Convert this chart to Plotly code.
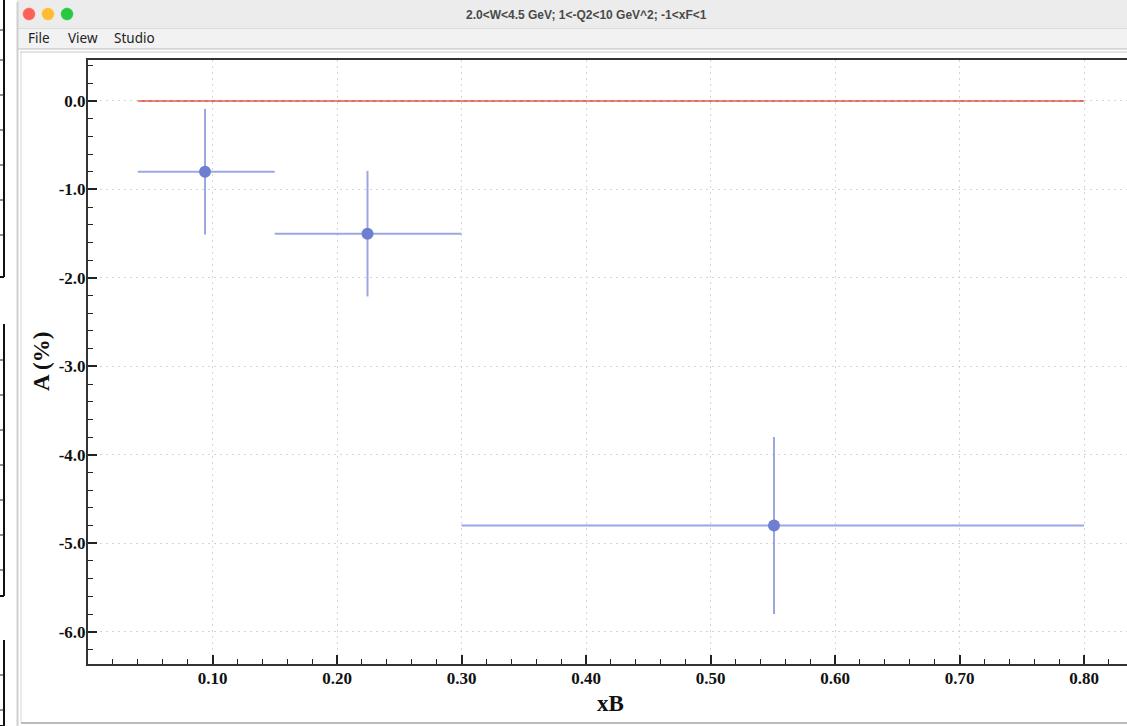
import plotly.graph_objects as go

# ---- data ----
xb_values = [0.094, 0.2245, 0.551]
xb_err_low = [0.054, 0.0745, 0.251]
xb_err_high = [0.056, 0.0755, 0.249]
asym_values = [-0.80, -1.50, -4.80]
asym_err = [0.71, 0.71, 1.00]

ref_x = [0.04, 0.80]
ref_y = [0.0, 0.0]

x_tickvals = [0.1, 0.2, 0.3, 0.4, 0.5, 0.6, 0.7, 0.8]
x_ticktext = ["0.10", "0.20", "0.30", "0.40", "0.50", "0.60", "0.70", "0.80"]
y_tickvals = [0, -1, -2, -3, -4, -5, -6]
y_ticktext = ["0.0", "-1.0", "-2.0", "-3.0", "-4.0", "-5.0", "-6.0"]

window_title = "2.0&lt;W&lt;4.5 GeV; 1&lt;-Q2&lt;10 GeV^2; -1&lt;xF&lt;1"
menu_items = ["File", "View", "Studio"]

# ---- page geometry (pixels) ----
W, H = 1127, 726
L, R, T, B = 88, 1127, 60, 664
X_SCALE = 1245.0  # pixels per unit of xB


def px(xp):
    return (xp - L) / (R - L)


def py(yp):
    return (B - yp) / (B - T)


fig = go.Figure()

fig.add_trace(go.Scatter(
    x=ref_x, y=ref_y, mode="lines",
    line=dict(color="rgba(226,98,88,0.95)", width=2),
    showlegend=False, hoverinfo="skip",
))
fig.add_trace(go.Scatter(
    x=ref_x, y=ref_y, mode="lines",
    line=dict(color="rgba(240,170,160,0.9)", width=1, dash="4px,3px"),
    showlegend=False, hoverinfo="skip",
))

fig.add_trace(go.Scatter(
    x=xb_values, y=asym_values, mode="markers",
    marker=dict(color="#6e7fd2", size=12),
    error_x=dict(type="data", symmetric=False, array=xb_err_high,
                 arrayminus=xb_err_low, color="rgba(120,138,218,0.75)",
                 thickness=2, width=0),
    error_y=dict(type="data", array=asym_err,
                 color="rgba(120,138,218,0.75)", thickness=2, width=0),
    showlegend=False,
))

shapes = []
# background window strip on the left
for y0, y1 in [(0, 277), (324, 596), (640, 726)]:
    shapes.append(dict(type="line", xref="paper", yref="paper",
                       x0=px(4), x1=px(4), y0=py(y0), y1=py(y1),
                       line=dict(color="#111", width=2), layer="below"))
    shapes.append(dict(type="line", xref="paper", yref="paper",
                       x0=px(0), x1=px(4), y0=py(y1), y1=py(y1),
                       line=dict(color="#111", width=2), layer="below"))
for y in [30, 60, 95, 130, 165, 200, 235, 360, 395, 430, 465, 500, 535, 570, 675, 710]:
    shapes.append(dict(type="line", xref="paper", yref="paper",
                       x0=px(0), x1=px(4), y0=py(y), y1=py(y),
                       line=dict(color="#222", width=1), layer="below"))

# window chrome: title bar, menu bar, borders
shapes += [
    dict(type="rect", xref="paper", yref="paper", x0=px(17), x1=px(W),
         y0=py(0), y1=py(28), fillcolor="#ececec", line_width=0, layer="below"),
    dict(type="rect", xref="paper", yref="paper", x0=px(17), x1=px(W),
         y0=py(28), y1=py(49), fillcolor="#f2f2f2", line_width=0, layer="below"),
    dict(type="line", xref="paper", yref="paper", x0=px(17), x1=px(W),
         y0=py(28.5), y1=py(28.5), line=dict(color="#dcdcdc", width=1), layer="below"),
    dict(type="line", xref="paper", yref="paper", x0=px(17), x1=px(W),
         y0=py(49), y1=py(49), line=dict(color="#bdbdbd", width=1), layer="below"),
    dict(type="line", xref="paper", yref="paper", x0=px(20), x1=px(W),
         y0=py(52), y1=py(52), line=dict(color="#c8c8c8", width=1), layer="below"),
    dict(type="line", xref="paper", yref="paper", x0=px(17.5), x1=px(17.5),
         y0=py(2), y1=py(H), line=dict(color="#cfcfcf", width=2), layer="below"),
    dict(type="line", xref="paper", yref="paper", x0=px(21), x1=px(21),
         y0=py(52), y1=py(723), line=dict(color="#d6d6d6", width=1), layer="below"),
    dict(type="line", xref="paper", yref="paper", x0=px(21), x1=px(W),
         y0=py(723), y1=py(723), line=dict(color="#bcbcbc", width=2), layer="below"),
]
# traffic-light buttons
for cx, col in [(29, "#fe5f57"), (48, "#febc2e"), (67, "#28c840")]:
    shapes.append(dict(type="circle", xref="paper", yref="paper",
                       x0=px(cx - 6), x1=px(cx + 6), y0=py(14 + 6), y1=py(14 - 6),
                       fillcolor=col, line=dict(color=col, width=0.5), layer="below"))

annotations = [
    dict(text=window_title, xref="paper", yref="paper", x=px(586), y=py(15),
         showarrow=False, xanchor="center", yanchor="middle",
         font=dict(family="Liberation Sans, Arial, sans-serif", size=12,
                   color="#4a4a4a", weight="bold")),
    dict(text="xB", xref="paper", yref="paper", x=px(610), y=py(703),
         showarrow=False, xanchor="center", yanchor="middle",
         font=dict(family="Liberation Serif", size=23, color="#111", weight="bold")),
    dict(text="A (%)", xref="paper", yref="paper", x=px(41), y=py(362),
         showarrow=False, xanchor="center", yanchor="middle", textangle=-90,
         font=dict(family="Liberation Serif", size=23, color="#111", weight="bold")),
]
menu_x = [26, 66, 112]
for label, mx in zip(menu_items, menu_x):
    annotations.append(dict(text=label, xref="paper", yref="paper", x=px(mx), y=py(38.5),
                            showarrow=False, xanchor="left", yanchor="middle",
                            font=dict(family="Noto Sans, sans-serif", size=13.5, color="#222")))

tick_font = dict(family="Liberation Serif", size=17, color="#111", weight="bold")

fig.update_layout(
    width=W, height=H,
    margin=dict(l=L, r=W - R, t=T, b=H - B, pad=0),
    paper_bgcolor="white", plot_bgcolor="white",
    shapes=shapes, annotations=annotations,
    xaxis=dict(
        range=[0, (R - L) / X_SCALE], tickmode="array",
        tickvals=x_tickvals, ticktext=x_ticktext,
        ticks="inside", ticklen=9, tickwidth=1.5, tickcolor="#222",
        minor=dict(ticks="inside", ticklen=5, tickwidth=1, tickcolor="#222",
                   tickmode="linear", tick0=0, dtick=0.02, showgrid=False),
        showline=True, linecolor="#333", linewidth=2, mirror=True,
        showgrid=True, gridcolor="#d4d4d4", griddash="2px,4px", gridwidth=1,
        zeroline=False, tickfont=tick_font, ticklabelstandoff=-2,
    ),
    yaxis=dict(
        range=[-6.365, 0.463], tickmode="array",
        tickvals=y_tickvals, ticktext=y_ticktext,
        ticks="inside", ticklen=9, tickwidth=1.5, tickcolor="#222",
        minor=dict(ticks="inside", ticklen=5, tickwidth=1, tickcolor="#222",
                   tickmode="linear", tick0=0, dtick=0.2, showgrid=False),
        showline=True, linecolor="#333", linewidth=2,
        showgrid=True, gridcolor="#d4d4d4", griddash="2px,4px", gridwidth=1,
        zeroline=False, tickfont=tick_font, ticklabelstandoff=-3,
    ),
)

fig.write_html("out.html")
